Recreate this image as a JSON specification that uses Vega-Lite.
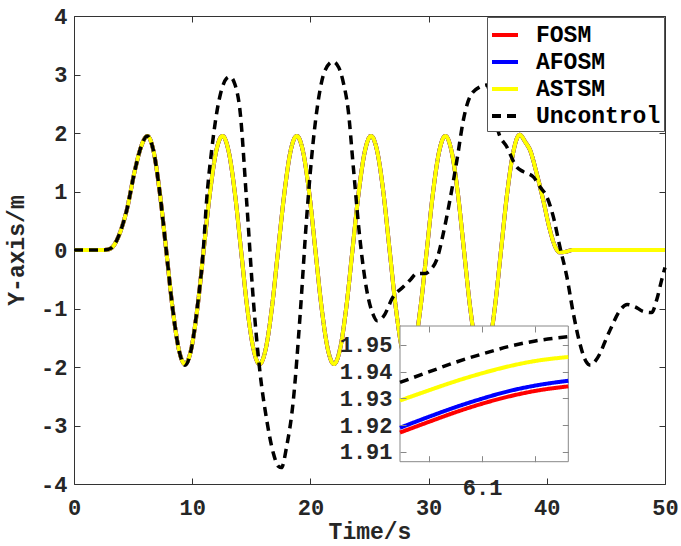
{
"$schema": "https://vega.github.io/schema/vega-lite/v6.json",
"width": 591, "height": 468,
"autosize": {"type": "none"},
"padding": {"left": 74, "top": 16, "right": 16, "bottom": 62},
"background": "white",
"config": {
  "font": "Courier New, Courier, Nimbus Mono PS, Liberation Mono, monospace",
  "view": {"stroke": "#333333", "strokeWidth": 1},
  "axis": {"grid": false, "domain": false, "labelFont": "Courier New, Courier, Nimbus Mono PS, Liberation Mono, monospace", "labelFontSize": 22, "labelFontWeight": "bold", "labelColor": "#262626", "titleFont": "Courier New, Courier, Nimbus Mono PS, Liberation Mono, monospace", "titleFontSize": 23, "titleFontWeight": "bold", "titleColor": "#262626", "tickColor": "#333333", "tickSize": -6, "tickWidth": 1, "labelFlush": false},
  "legend": {"orient": "top-right", "offset": 1, "padding": 3, "strokeColor": "#555555", "fillColor": "white", "labelFont": "Courier New, Courier, Nimbus Mono PS, Liberation Mono, monospace", "labelFontSize": 23, "labelFontWeight": "bold", "labelColor": "#000000", "symbolType": "stroke", "symbolSize": 676, "symbolStrokeWidth": 4, "rowPadding": 0, "labelOffset": 16, "cornerRadius": 0}
},
"datasets": {
  "ctrl": [
    {"t":0,"y":0},{"t":2.5,"y":0},{"t":2.9,"y":0.01},{"t":3.3,"y":0.06},{"t":3.8,"y":0.25},{"t":4.46,"y":0.68},{"t":5.16,"y":1.37},{"t":5.7,"y":1.78},{"t":6.2,"y":1.95},
    {"t":6.73,"y":1.69},{"t":7.26,"y":0.975},{"t":7.8,"y":0},{"t":8.33,"y":-0.975},{"t":8.86,"y":-1.69},{"t":9.39,"y":-1.95},
    {"t":9.92,"y":-1.69},{"t":10.45,"y":-0.975},{"t":10.97,"y":0},{"t":11.5,"y":0.975},{"t":12.03,"y":1.69},{"t":12.56,"y":1.95},
    {"t":13.08,"y":1.69},{"t":13.61,"y":0.975},{"t":14.13,"y":0},{"t":14.65,"y":-0.975},{"t":15.18,"y":-1.69},{"t":15.7,"y":-1.95},
    {"t":16.22,"y":-1.69},{"t":16.75,"y":-0.975},{"t":17.27,"y":0},{"t":17.8,"y":0.975},{"t":18.32,"y":1.69},{"t":18.85,"y":1.95},
    {"t":19.37,"y":1.69},{"t":19.9,"y":0.975},{"t":20.42,"y":0},{"t":20.94,"y":-0.975},{"t":21.47,"y":-1.69},{"t":21.99,"y":-1.95},
    {"t":22.51,"y":-1.69},{"t":23.04,"y":-0.975},{"t":23.56,"y":0},{"t":24.08,"y":0.975},{"t":24.61,"y":1.69},{"t":25.13,"y":1.95},
    {"t":25.65,"y":1.69},{"t":26.18,"y":0.975},{"t":26.7,"y":0},{"t":27.22,"y":-0.975},{"t":27.75,"y":-1.69},{"t":28.27,"y":-1.95},
    {"t":28.79,"y":-1.69},{"t":29.32,"y":-0.975},{"t":29.85,"y":0},{"t":30.37,"y":0.975},{"t":30.9,"y":1.69},{"t":31.42,"y":1.95},
    {"t":31.94,"y":1.69},{"t":32.47,"y":0.975},{"t":32.99,"y":0},{"t":33.51,"y":-0.975},{"t":34.04,"y":-1.69},{"t":34.56,"y":-1.95},
    {"t":35.08,"y":-1.69},{"t":35.61,"y":-0.975},{"t":36.13,"y":0},{"t":36.65,"y":0.975},{"t":37.18,"y":1.69},{"t":37.7,"y":1.97},
    {"t":38.2,"y":1.84},{"t":38.58,"y":1.71},{"t":39.14,"y":1.31},{"t":39.7,"y":0.85},{"t":40.27,"y":0.34},{"t":40.7,"y":0.06},{"t":41.1,"y":-0.04},{"t":41.6,"y":-0.03},{"t":42.2,"y":0},{"t":50,"y":0}
  ],
  "unc": [
    {"t":0,"y":0},{"t":2.5,"y":0},{"t":2.9,"y":0.01},{"t":3.3,"y":0.06},{"t":3.8,"y":0.25},{"t":4.46,"y":0.68},{"t":5.16,"y":1.37},{"t":5.7,"y":1.78},{"t":6.2,"y":1.95},
    {"t":6.73,"y":1.69},{"t":7.26,"y":0.975},{"t":7.8,"y":0},{"t":8.33,"y":-0.975},{"t":8.86,"y":-1.69},{"t":9.39,"y":-1.97},
    {"t":9.92,"y":-1.7},{"t":10.45,"y":-0.95},{"t":10.94,"y":0},{"t":11.22,"y":0.85},{"t":11.65,"y":1.71},{"t":12.07,"y":2.34},{"t":12.5,"y":2.75},{"t":12.9,"y":2.93},{"t":13.2,"y":2.96},{"t":13.6,"y":2.84},{"t":14.04,"y":2.39},
    {"t":14.6,"y":0.85},{"t":15.17,"y":-0.85},{"t":15.74,"y":-2.1},{"t":16.3,"y":-2.9},{"t":16.86,"y":-3.47},{"t":17.3,"y":-3.7},{"t":17.55,"y":-3.72},{"t":17.99,"y":-3.36},
    {"t":18.56,"y":-2.56},{"t":19.12,"y":-1.14},{"t":19.69,"y":0.57},{"t":20.25,"y":1.88},{"t":20.67,"y":2.56},{"t":21.2,"y":3.05},{"t":21.9,"y":3.22},{"t":22.4,"y":3.12},{"t":22.8,"y":2.85},
    {"t":23.2,"y":2.39},{"t":23.63,"y":1.42},{"t":24.2,"y":0.17},{"t":24.76,"y":-0.68},{"t":25.3,"y":-1.1},{"t":25.65,"y":-1.21},{"t":26.17,"y":-1.14},{"t":27.0,"y":-0.8},{"t":27.86,"y":-0.63},
    {"t":28.5,"y":-0.5},{"t":28.99,"y":-0.4},{"t":29.7,"y":-0.4},{"t":30.2,"y":-0.33},{"t":30.68,"y":-0.17},{"t":31.24,"y":0.28},{"t":31.8,"y":0.85},{"t":32.4,"y":1.54},{"t":32.94,"y":2.22},
    {"t":33.5,"y":2.62},{"t":34.35,"y":2.79},{"t":34.9,"y":2.82},{"t":35.4,"y":2.5},{"t":35.9,"y":2.02},{"t":36.6,"y":1.77},{"t":37.45,"y":1.42},{"t":38.0,"y":1.34},{"t":38.86,"y":1.25},
    {"t":39.42,"y":1.08},{"t":40.0,"y":0.91},{"t":40.55,"y":0.57},{"t":41.1,"y":0.06},{"t":41.7,"y":-0.46},{"t":42.24,"y":-1.08},{"t":42.8,"y":-1.6},{"t":43.3,"y":-1.9},{"t":43.7,"y":-1.97},
    {"t":44.1,"y":-1.9},{"t":44.5,"y":-1.77},{"t":45.06,"y":-1.5},{"t":45.35,"y":-1.37},{"t":46.2,"y":-1.03},{"t":46.8,"y":-0.93},{"t":47.46,"y":-0.97},{"t":48.16,"y":-1.05},{"t":48.87,"y":-1.07},
    {"t":49.3,"y":-0.85},{"t":49.72,"y":-0.51},{"t":50,"y":-0.3}
  ],
  "zoom": [
    {"t":6.023,"FOSM":1.9172,"AFOSM":1.9190,"ASTSM":1.9292,"Uncontrol":1.9360},
    {"t":6.05,"FOSM":1.9212,"AFOSM":1.9231,"ASTSM":1.9330,"Uncontrol":1.9399},
    {"t":6.075,"FOSM":1.9248,"AFOSM":1.9267,"ASTSM":1.9364,"Uncontrol":1.9435},
    {"t":6.1,"FOSM":1.9280,"AFOSM":1.9299,"ASTSM":1.9394,"Uncontrol":1.9466},
    {"t":6.125,"FOSM":1.9307,"AFOSM":1.9327,"ASTSM":1.9420,"Uncontrol":1.9494},
    {"t":6.15,"FOSM":1.9328,"AFOSM":1.9348,"ASTSM":1.9440,"Uncontrol":1.9515},
    {"t":6.181,"FOSM":1.9345,"AFOSM":1.9366,"ASTSM":1.9455,"Uncontrol":1.9531}
  ]
},
"layer": [
  {"data": {"name": "ctrl"}, "mark": {"type": "line", "strokeWidth": 4, "interpolate": "monotone"},
   "encoding": {
     "x": {"field": "t", "type": "quantitative", "scale": {"domain": [0, 50], "nice": false}, "axis": {"orient": "bottom", "values": [0,10,20,30,40,50], "title": "Time/s", "labelPadding": 19, "titlePadding": 2}},
     "y": {"field": "y", "type": "quantitative", "scale": {"domain": [-4, 4], "nice": false}, "axis": {"orient": "left", "values": [-4,-3,-2,-1,0,1,2,3,4], "labelExpr": "toString(datum.value)", "title": "Y-axis/m", "labelPadding": 13, "titlePadding": 12}},
     "color": {"datum": "FOSM", "type": "nominal", "scale": {"domain": ["FOSM","AFOSM","ASTSM","Uncontrol"], "range": ["#ff0000","#0000ff","#ffff00","#000000"]}, "legend": {"title": null}},
     "strokeDash": {"datum": "FOSM", "type": "nominal", "scale": {"domain": ["FOSM","AFOSM","ASTSM","Uncontrol"], "range": [[1,0],[1,0],[1,0],[9,6]]}, "legend": {"title": null}}
   }},
  {"data": {"name": "ctrl"}, "mark": {"type": "line", "strokeWidth": 4, "interpolate": "monotone"},
   "encoding": {
     "x": {"field": "t", "type": "quantitative", "scale": {"domain": [0, 50], "nice": false}, "axis": null},
     "y": {"field": "y", "type": "quantitative", "scale": {"domain": [-4, 4], "nice": false}, "axis": null},
     "color": {"datum": "AFOSM", "type": "nominal"},
     "strokeDash": {"datum": "AFOSM", "type": "nominal"}
   }},
  {"data": {"name": "ctrl"}, "mark": {"type": "line", "strokeWidth": 4, "interpolate": "monotone"},
   "encoding": {
     "x": {"field": "t", "type": "quantitative", "scale": {"domain": [0, 50], "nice": false}, "axis": null},
     "y": {"field": "y", "type": "quantitative", "scale": {"domain": [-4, 4], "nice": false}, "axis": null},
     "color": {"datum": "ASTSM", "type": "nominal"},
     "strokeDash": {"datum": "ASTSM", "type": "nominal"}
   }},
  {"data": {"name": "unc"}, "mark": {"type": "line", "strokeWidth": 3.5, "interpolate": "monotone"},
   "encoding": {
     "x": {"field": "t", "type": "quantitative", "scale": {"domain": [0, 50], "nice": false}, "axis": {"orient": "top", "values": [0,10,20,30,40,50], "labels": false, "title": null}},
     "y": {"field": "y", "type": "quantitative", "scale": {"domain": [-4, 4], "nice": false}, "axis": {"orient": "right", "values": [-4,-3,-2,-1,0,1,2,3,4], "labels": false, "title": null}},
     "color": {"datum": "Uncontrol", "type": "nominal"},
     "strokeDash": {"datum": "Uncontrol", "type": "nominal"}
   }},
  {"data": {"values": [{}]}, "mark": {"type": "rect", "fill": "white", "stroke": "#888888", "strokeWidth": 1},
   "encoding": {
     "x": {"datum": 6.023, "type": "quantitative", "scale": {"domain": [6.023, 6.181], "range": [326, 494.3], "nice": false, "zero": false}, "axis": {"orient": "bottom", "offset": -22.3, "values": [6.05, 6.1, 6.15], "labelExpr": "abs(datum.value - 6.1) < 0.001 ? '6.1' : ''", "title": null, "zindex": 1, "labelPadding": 22, "tickColor": "#888888"}},
     "x2": {"datum": 6.181},
     "y": {"datum": 1.9063, "type": "quantitative", "scale": {"domain": [1.9063, 1.9571], "range": [445.7, 310], "nice": false, "zero": false}, "axis": {"orient": "left", "offset": -326, "values": [1.91, 1.92, 1.93, 1.94, 1.95], "format": ".2f", "title": null, "zindex": 1, "labelPadding": 14, "tickColor": "#888888"}},
     "y2": {"datum": 1.9571}
   }},
  {"data": {"name": "zoom"}, "mark": {"type": "line", "strokeWidth": 4, "interpolate": "monotone"},
   "encoding": {
     "x": {"field": "t", "type": "quantitative", "scale": {"domain": [6.023, 6.181], "range": [326, 494.3], "nice": false, "zero": false}, "axis": {"orient": "top", "offset": -310, "values": [6.05, 6.1, 6.15], "labels": false, "title": null, "zindex": 1, "tickColor": "#888888"}},
     "y": {"field": "FOSM", "type": "quantitative", "scale": {"domain": [1.9063, 1.9571], "range": [445.7, 310], "nice": false, "zero": false}, "axis": {"orient": "right", "offset": -96.7, "values": [1.91, 1.92, 1.93, 1.94, 1.95], "labels": false, "title": null, "zindex": 1, "tickColor": "#888888"}},
     "color": {"datum": "FOSM", "type": "nominal"},
     "strokeDash": {"datum": "FOSM", "type": "nominal"}
   }},
  {"data": {"name": "zoom"}, "mark": {"type": "line", "strokeWidth": 4, "interpolate": "monotone"},
   "encoding": {
     "x": {"field": "t", "type": "quantitative", "scale": {"domain": [6.023, 6.181], "range": [326, 494.3], "nice": false, "zero": false}, "axis": null},
     "y": {"field": "AFOSM", "type": "quantitative", "scale": {"domain": [1.9063, 1.9571], "range": [445.7, 310], "nice": false, "zero": false}, "axis": null},
     "color": {"datum": "AFOSM", "type": "nominal"},
     "strokeDash": {"datum": "AFOSM", "type": "nominal"}
   }},
  {"data": {"name": "zoom"}, "mark": {"type": "line", "strokeWidth": 4, "interpolate": "monotone"},
   "encoding": {
     "x": {"field": "t", "type": "quantitative", "scale": {"domain": [6.023, 6.181], "range": [326, 494.3], "nice": false, "zero": false}, "axis": null},
     "y": {"field": "ASTSM", "type": "quantitative", "scale": {"domain": [1.9063, 1.9571], "range": [445.7, 310], "nice": false, "zero": false}, "axis": null},
     "color": {"datum": "ASTSM", "type": "nominal"},
     "strokeDash": {"datum": "ASTSM", "type": "nominal"}
   }},
  {"data": {"name": "zoom"}, "mark": {"type": "line", "strokeWidth": 3.5, "interpolate": "monotone"},
   "encoding": {
     "x": {"field": "t", "type": "quantitative", "scale": {"domain": [6.023, 6.181], "range": [326, 494.3], "nice": false, "zero": false}, "axis": null},
     "y": {"field": "Uncontrol", "type": "quantitative", "scale": {"domain": [1.9063, 1.9571], "range": [445.7, 310], "nice": false, "zero": false}, "axis": null},
     "color": {"datum": "Uncontrol", "type": "nominal"},
     "strokeDash": {"datum": "Uncontrol", "type": "nominal"}
   }}
],
"resolve": {"scale": {"x": "independent", "y": "independent"}, "axis": {"x": "independent", "y": "independent"}}
}
